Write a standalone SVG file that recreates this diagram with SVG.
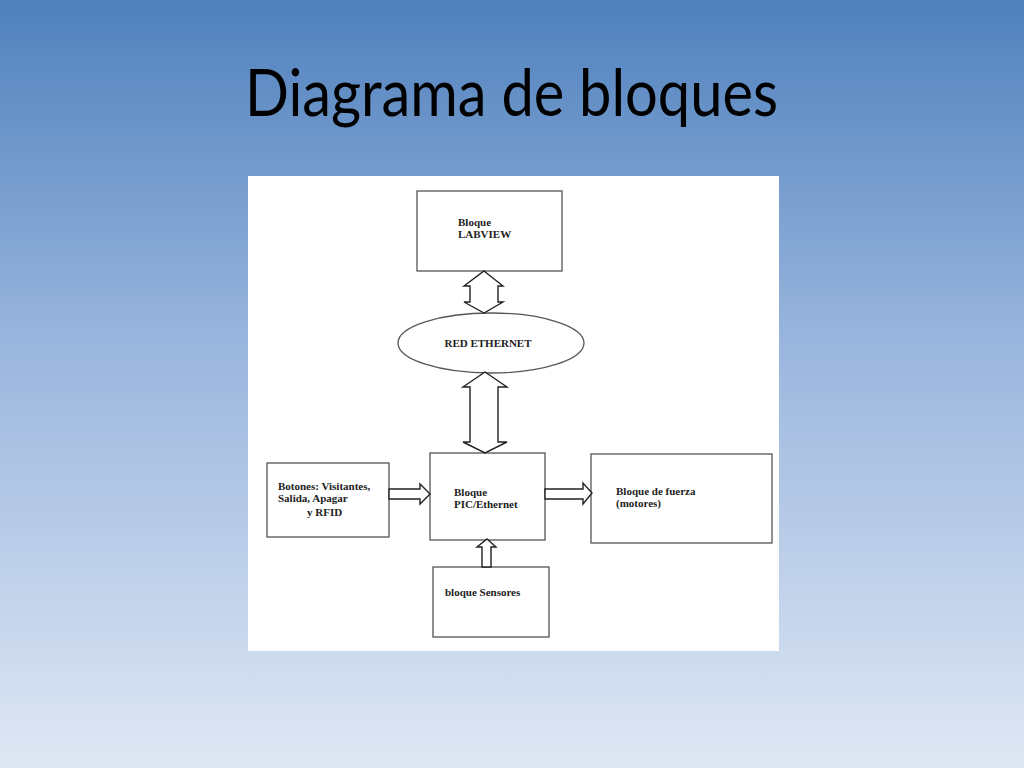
<svg xmlns="http://www.w3.org/2000/svg" width="1024" height="768" viewBox="0 0 1024 768">
<defs>
<linearGradient id="bg" x1="0" y1="0" x2="0" y2="1">
<stop offset="0" stop-color="#4f81bd"/>
<stop offset="0.45" stop-color="#9ab6de"/>
<stop offset="1" stop-color="#dfe7f4"/>
</linearGradient>
<style>
.box{fill:#fff;stroke:#555;stroke-width:1.3}
.arr{fill:#fff;stroke:#222;stroke-width:1.4;stroke-linejoin:miter}
.t{font-family:"Liberation Serif","Times New Roman",serif;font-weight:bold;font-size:11px;fill:#222}
.title{font-family:Lato,"Open Sans",sans-serif;font-size:65px;fill:#000}
</style>
</defs>
<rect width="1024" height="768" fill="url(#bg)"/>
<text class="title" x="245" y="116" textLength="533" lengthAdjust="spacingAndGlyphs">Diagrama de bloques</text>
<rect x="248" y="176" width="531" height="475" fill="#fff"/>

<g id="labview">
<rect class="box" x="417" y="191" width="145" height="80"/>
<text class="t" x="458" y="226">Bloque</text>
<text class="t" x="458" y="238">LABVIEW</text>
</g>
<g id="ethernet">
<ellipse class="box" cx="491" cy="343" rx="93" ry="30"/>
<text class="t" x="488" y="347" text-anchor="middle" font-size="10.5">RED ETHERNET</text>
</g>
<g id="pic">
<rect class="box" x="430" y="453" width="115" height="87"/>
<text class="t" x="454" y="496">Bloque</text>
<text class="t" x="454" y="508">PIC/Ethernet</text>
</g>
<g id="botones">
<rect class="box" x="267" y="463" width="122" height="74"/>
<text class="t" x="278" y="490">Botones: Visitantes,</text>
<text class="t" x="278" y="502">Salida, Apagar</text>
<text class="t" x="307" y="516">y RFID</text>
</g>
<g id="fuerza">
<rect class="box" x="591" y="454" width="181" height="89"/>
<text class="t" x="616" y="495">Bloque de fuerza</text>
<text class="t" x="616" y="507">(motores)</text>
</g>
<g id="sensores">
<rect class="box" x="433" y="567" width="116" height="70"/>
<text class="t" x="445" y="596">bloque Sensores</text>
</g>

<g id="connectors">
<path class="arr" d="M484,271 L503,286 L498,286 L498,302 L503,302 L484,313 L464,302 L470,302 L470,286 L464,286 Z"/>
<path class="arr" d="M485,372 L507,387 L498,387 L498,442 L507,442 L485,453 L463,442 L470,442 L470,387 L463,387 Z"/>
<path class="arr" d="M389,489 L420,489 L420,484 L430,494 L420,504 L420,499 L389,499 Z"/>
<path class="arr" d="M545,489 L583,489 L583,483 L592,493 L583,504 L583,499 L545,499 Z"/>
<path class="arr" d="M487,539 L496,547 L491,547 L491,567 L482,567 L482,547 L477,547 Z"/>
</g>
</svg>
